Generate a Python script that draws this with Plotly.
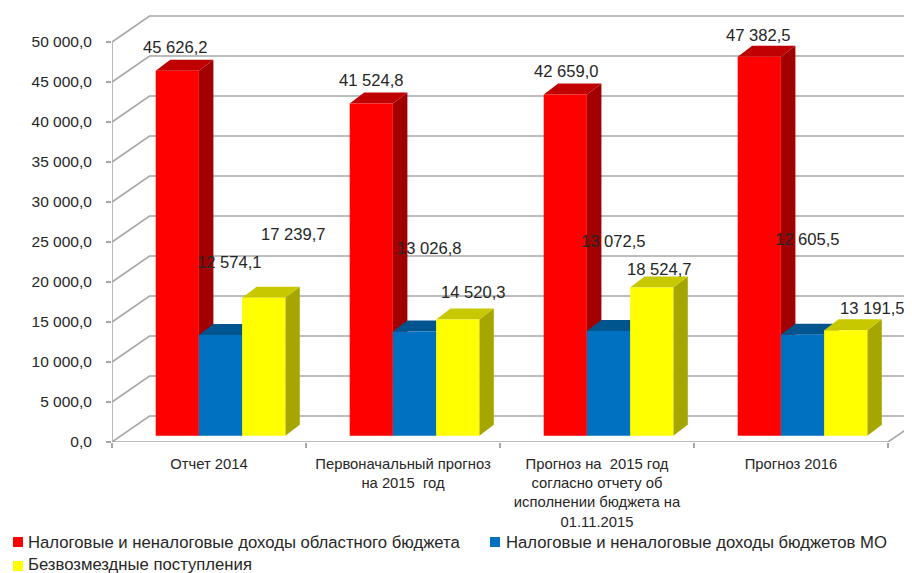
import plotly.graph_objects as go

categories = ["Отчет 2014", "Первоначальный прогноз<br>на 2015  год",
              "Прогноз на  2015 год<br>согласно отчету об<br>исполнении бюджета на<br>01.11.2015", "Прогноз 2016"]
series_names = ["Налоговые и неналоговые доходы областного бюджета",
                "Налоговые и неналоговые доходы бюджетов МО",
                "Безвозмездные поступления"]
regional = [45626.2, 41524.8, 42659.0, 47382.5]
municipal = [12574.1, 13026.8, 13072.5, 12605.5]
grants = [17239.7, 14520.3, 18524.7, 13191.5]
y_ticks = [0, 5000, 10000, 15000, 20000, 25000, 30000, 35000, 40000, 45000, 50000]

# styling and pseudo-3D geometry (the page adds an 8 px body margin)
PAGE = 8
W, H = 912 - PAGE, 573 - PAGE
LEFT, BOTTOM = 112 - PAGE, 442 - PAGE
PX_X, PX_Y = 194.0, 0.008      # pixels per category / per value
GRID = "#a6a6a6"
TXT = "#262626"
FONT = "Liberation Sans"
front = [("#ff0000", "#c00000", "#a00000"), ("#0070c0", "#00558f", "#004a80"), ("#ffff00", "#c8c800", "#a6a600")]
offset0, bw = (155.7 - 209) / PX_X, 43.2 / PX_X
base = 6.3 / PX_Y
bdx, bdy = 14.5 / PX_X, 11 / PX_Y
wdx, wdy = 37.5 / PX_X, 26 / PX_Y
label_dx = [[-1.8, -0.3, 0.7, -1.3], [8.5, 14.5, 5, 4.5], [30, 16, 8, 27]]
label_up = [[22.7, 23.5, 23.4, 21.6], [73, 82.5, 90, 95], [63, 27, 18, 22]]
legend_text_px = [(25.5, 542), (503.5, 542), (25.5, 564)]
legend_box_px = [(13, 537), (490, 537), (13, 561)]


def ru(v):
    return f"{v:,.1f}".replace(",", " ").replace(".", ",")


fig = go.Figure()
gx, gy = [], []
for v in y_ticks:
    gx += [-0.5, -0.5 + wdx, 3.5 + wdx, None]
    gy += [v, v + wdy, v + wdy, None]
gx += [-0.5, -0.5, None, -0.5, 3.5, 3.5 + wdx, None]
gy += [0, y_ticks[-1], None, 0, 0, wdy, None]
fig.add_trace(go.Scatter(x=gx, y=gy, mode="lines", line=dict(color=GRID, width=1.6), hoverinfo="skip",
                         showlegend=False, cliponaxis=False, zorder=0))

xs = list(range(len(categories)))
for s, vals in enumerate([regional, municipal, grants]):
    col, top_c, side_c = front[s]
    left = [x + offset0 + s * bw for x in xs]
    tx, ty, sx, sy = [], [], [], []
    for l, v in zip(left, vals):
        r = l + bw
        t = base + v
        tx += [l, r, r + bdx, l + bdx, l, None]
        ty += [t, t, t + bdy, t + bdy, t, None]
        sx += [r, r + bdx, r + bdx, r, r, None]
        sy += [base, base + bdy, t + bdy, t, base, None]
    fig.add_trace(go.Scatter(x=sx, y=sy, mode="lines", fill="toself", fillcolor=side_c, line=dict(width=0),
                             hoverinfo="skip", showlegend=False, zorder=2 * s + 1))
    fig.add_trace(go.Scatter(x=tx, y=ty, mode="lines", fill="toself", fillcolor=top_c, line=dict(width=0),
                             hoverinfo="skip", showlegend=False, zorder=2 * s + 1))
    fig.add_trace(go.Bar(x=xs, y=vals, base=base, width=bw, offset=offset0 + s * bw, name=series_names[s],
                         marker=dict(color=col, line=dict(width=0)), showlegend=False, zorder=2 * s + 2))
    for i, (l, v) in enumerate(zip(left, vals)):
        fig.add_annotation(x=l + bw / 2, y=base + v, text=ru(v), showarrow=False,
                           xshift=label_dx[s][i], yshift=label_up[s][i],
                           font=dict(family=FONT, size=16.6, color=TXT))
    # legend entry
    tpx, typ = legend_text_px[s]
    fig.add_annotation(xref="paper", yref="paper", x=0, y=0, xanchor="left", yanchor="middle", showarrow=False,
                       xshift=tpx - PAGE - LEFT, yshift=-(typ - PAGE - BOTTOM), text=series_names[s], align="left",
                       font=dict(family=FONT, size=16.7, color=TXT))
    bpx, bpy = legend_box_px[s]
    fig.add_shape(type="rect", xref="paper", yref="paper", xsizemode="pixel", ysizemode="pixel", xanchor=0, yanchor=0,
                  x0=bpx - PAGE - LEFT, x1=bpx + 10 - PAGE - LEFT,
                  y0=-(bpy - PAGE - BOTTOM), y1=-(bpy + 10 - PAGE - BOTTOM),
                  fillcolor=col, line=dict(width=0))

fig.update_layout(
    width=W, height=H, barmode="overlay", paper_bgcolor="white", plot_bgcolor="white",
    margin=dict(l=LEFT, r=0, t=0, b=H - BOTTOM, autoexpand=False),
    font=dict(family=FONT, color=TXT),
    showlegend=False,
    xaxis=dict(range=[-0.5, (W - LEFT) / PX_X - 0.5], tickmode="array", tickvals=xs, ticktext=categories,
               ticks="", showgrid=False, zeroline=False, showline=False, ticklabelstandoff=11,
               tickangle=0, tickfont=dict(family=FONT, size=14.8, color=TXT),
               minor=dict(tickmode="array", tickvals=[-0.5, 0.5, 1.5, 2.5, 3.5], ticks="outside", ticklen=5,
                          tickwidth=1.5, tickcolor=GRID, showgrid=False)),
    yaxis=dict(range=[0, BOTTOM / PX_Y], tickmode="array", tickvals=y_ticks, ticktext=[ru(v) for v in y_ticks],
               ticks="outside", ticklen=5, tickwidth=1.5, tickcolor=GRID, showgrid=False, zeroline=False,
               showline=False, ticklabelstandoff=11, tickfont=dict(family=FONT, size=15.5, color=TXT)),
    hovermode=False,
)
fig.write_html("out.html")
